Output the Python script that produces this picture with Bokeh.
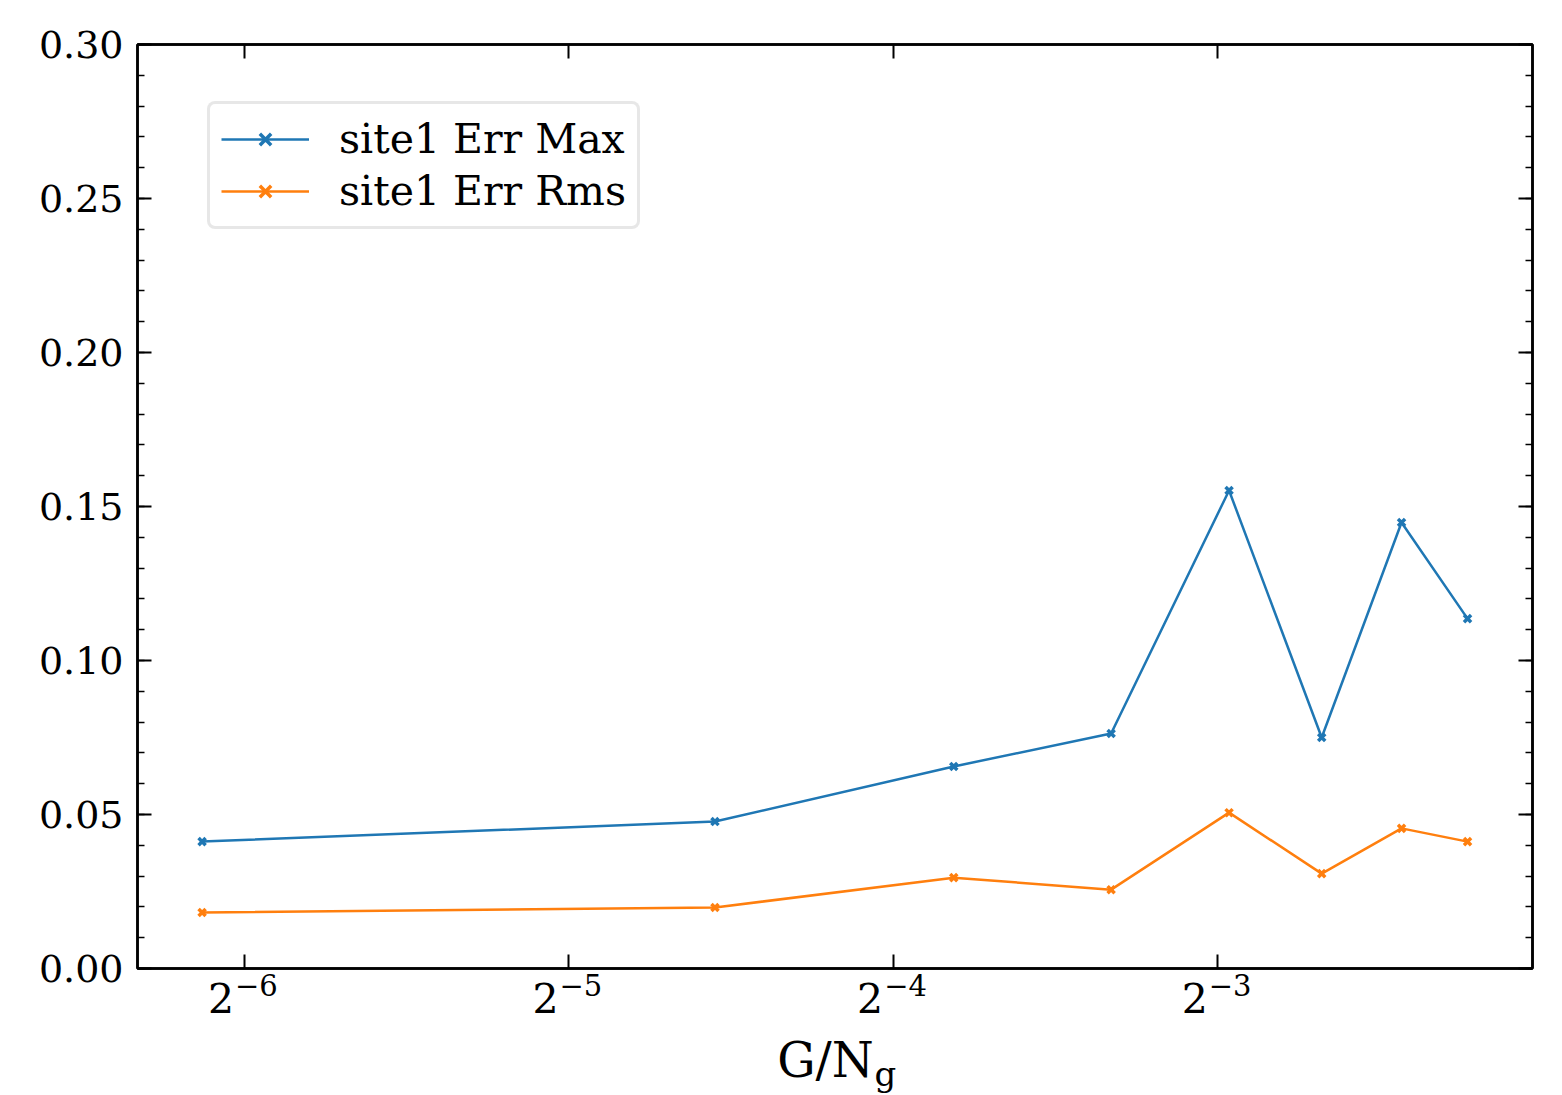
import math
from bokeh.plotting import figure
from bokeh.models import (Range1d, FixedTicker, LinearAxis, LogAxis, Legend,
                          LegendItem, Label)
from bokeh.embed import file_html
from bokeh.resources import INLINE

# ---- data ----
g_over_ng = [0.01428, 0.0427, 0.0711, 0.0995, 0.128, 0.156, 0.185, 0.213]
err_max = [0.0412, 0.0477, 0.0656, 0.0763, 0.1552, 0.0750, 0.1448, 0.1136]
err_rms = [0.0182, 0.0198, 0.0295, 0.0256, 0.0506, 0.0308, 0.0455, 0.0412]
series_names = ["site1 Err Max", "site1 Err Rms"]
x_ticks = [2 ** -6, 2 ** -5, 2 ** -4, 2 ** -3]
x_tick_base = ["2", "2", "2", "2"]
x_tick_exp = ["\u22126", "\u22125", "\u22124", "\u22123"]
y_ticks = [0.0, 0.05, 0.10, 0.15, 0.20, 0.25, 0.30]
y_tick_labels = ["0.00", "0.05", "0.10", "0.15", "0.20", "0.25", "0.30"]
y_minor = [i / 100 for i in range(0, 31)]
x_lo, x_hi = 0.01244, 0.2447
x_title = "G/N"
x_title_sub = "g"

FONT = "DejaVu Serif"
BLUE = "#1f77b4"
ORANGE = "#ff7f0e"

p = figure(width=1562, height=1095, x_axis_type="log",
           x_range=Range1d(x_lo, x_hi), y_range=Range1d(0.0, 0.30),
           output_backend="svg", toolbar_location=None,
           min_border_left=137, min_border_right=30,
           min_border_top=44, min_border_bottom=127)
p.background_fill_color = "white"
p.border_fill_color = "white"
p.grid.visible = False
p.outline_line_color = "black"
p.outline_line_width = 2.5

def style_axis(ax):
    ax.axis_line_color = "black"
    ax.axis_line_width = 2.5
    ax.major_tick_in = 14
    ax.major_tick_out = 0
    ax.minor_tick_in = 7
    ax.minor_tick_out = 0
    ax.major_tick_line_width = 2
    ax.minor_tick_line_width = 1.5
    ax.major_tick_line_color = "black"
    ax.minor_tick_line_color = "black"
    ax.major_label_text_font = FONT
    ax.major_label_text_color = "black"

# bottom axis: ticks + exponent part of the labels (padded to sit right of the base)
bx = p.xaxis[0]
bx.ticker = FixedTicker(ticks=x_ticks, minor_ticks=[])
bx.major_label_overrides = {t: "\u2007\u2009" + e for t, e in zip(x_ticks, x_tick_exp)}
style_axis(bx)
bx.major_label_text_font_size = "29px"
bx.major_label_standoff = 0

# second bottom axis: base "2" of the labels (no line, no ticks) + axis title
bx2 = LogAxis(ticker=FixedTicker(ticks=x_ticks, minor_ticks=[]))
bx2.major_label_overrides = {t: b + "\u2007\u2002" for t, b in zip(x_ticks, x_tick_base)}
bx2.axis_line_color = None
bx2.major_tick_line_color = None
bx2.minor_tick_line_color = None
bx2.major_tick_in = 0
bx2.major_tick_out = 0
bx2.major_label_text_font = FONT
bx2.major_label_text_font_size = "41px"
bx2.major_label_text_color = "black"
bx2.major_label_standoff = -31
bx2.axis_label = x_title + "\u2009\u2009"
bx2.axis_label_text_font = FONT
bx2.axis_label_text_font_size = "48px"
bx2.axis_label_text_font_style = "normal"
bx2.axis_label_text_color = "black"
bx2.axis_label_standoff = 6
p.add_layout(bx2, "below")

ly = p.yaxis[0]
ly.ticker = FixedTicker(ticks=y_ticks, minor_ticks=y_minor)
ly.major_label_overrides = {t: l for t, l in zip(y_ticks, y_tick_labels)}
style_axis(ly)
ly.major_label_text_font_size = "38px"
ly.major_label_standoff = 14

top = LogAxis(ticker=FixedTicker(ticks=x_ticks, minor_ticks=[]))
style_axis(top)
top.major_label_overrides = {t: "" for t in x_ticks}
top.major_label_standoff = 0
p.add_layout(top, "above")
right = LinearAxis(ticker=FixedTicker(ticks=y_ticks, minor_ticks=y_minor))
style_axis(right)
right.major_label_overrides = {t: "" for t in y_ticks}
right.major_label_standoff = 0
p.add_layout(right, "right")

r1 = p.line(g_over_ng, err_max, line_color=BLUE, line_width=2.5)
m1 = p.scatter(g_over_ng, err_max, marker="x", size=10, line_color=BLUE, line_width=3.5)
r2 = p.line(g_over_ng, err_rms, line_color=ORANGE, line_width=2.5)
m2 = p.scatter(g_over_ng, err_rms, marker="x", size=10, line_color=ORANGE, line_width=3.5)

legend = Legend(items=[LegendItem(label=series_names[0], renderers=[r1, m1]),
                       LegendItem(label=series_names[1], renderers=[r2, m2])],
                location=(70, 739))
legend.label_text_font = FONT
legend.label_text_font_size = "41px"
legend.label_text_color = "black"
legend.glyph_width = 88
legend.glyph_height = 40
legend.label_standoff = 30
legend.spacing = 4
legend.padding = 11
legend.border_line_color = "#d0d0d0"
legend.border_line_width = 3
legend.border_radius = 8
legend.background_fill_alpha = 0.8
p.add_layout(legend, "center")

# subscript g of the x-axis title
p.add_layout(Label(x=-658, y=-105, x_units="screen", y_units="screen",
                   text=x_title_sub, text_font=FONT, text_font_size="34px",
                   text_align="left", text_baseline="alphabetic",
                   text_color="black"), "right")

open("out.html", "w").write(file_html(p, INLINE))
